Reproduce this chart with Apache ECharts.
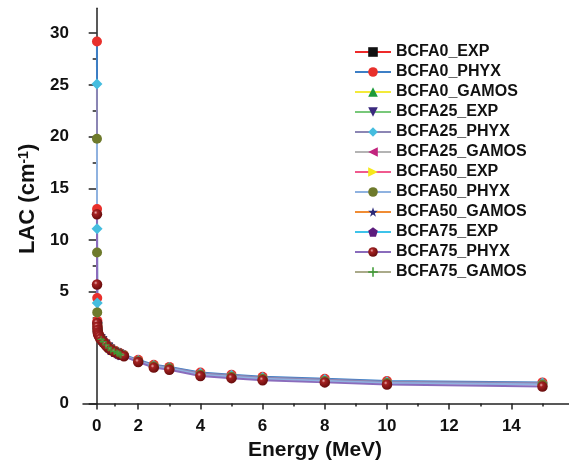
<!DOCTYPE html>
<html>
<head>
<meta charset="utf-8">
<script src="https://cdn.jsdelivr.net/npm/echarts@6/dist/echarts.min.js"></script>
<style>
  html, body { margin: 0; padding: 0; background: #fff; }
  #chart { width: 569px; height: 461px; }
</style>
</head>
<body>
<div id="chart"></div>
<script>
// energies (MeV)
const phyxEnergy = [0.015, 0.02, 0.03, 0.04, 0.05, 0.06, 0.08, 0.1, 0.15, 0.2, 0.3, 0.4, 0.5, 0.6, 0.8, 1, 1.25, 1.5, 2, 2.5, 3, 4, 5, 6, 8, 10, 15]
const expEnergy = [0.244, 0.344, 0.511, 0.662, 0.779, 0.964, 1.112, 1.173, 1.275, 1.333]

// LAC (cm-1)
const bcfa0Phyx = [29.2, 13.0, 4.4, 2.2, 1.55, 1.22, 1.02, 0.99, 0.97, 0.94, 0.91, 0.88, 0.85, 0.82, 0.78, 0.75, 0.72, 0.69, 0.62, 0.55, 0.52, 0.44, 0.41, 0.38, 0.35, 0.32, 0.30]
const bcfa25Phyx = [25.1, 11.1, 3.9, 2.0, 1.45, 1.15, 1.01, 0.98, 0.96, 0.93, 0.90, 0.87, 0.84, 0.81, 0.77, 0.74, 0.71, 0.68, 0.61, 0.54, 0.51, 0.43, 0.40, 0.37, 0.34, 0.31, 0.29]
const bcfa50Phyx = [19.8, 8.8, 3.0, 1.8, 1.38, 1.10, 1.00, 0.98, 0.95, 0.93, 0.90, 0.87, 0.84, 0.81, 0.77, 0.74, 0.71, 0.68, 0.60, 0.53, 0.50, 0.41, 0.38, 0.35, 0.32, 0.29, 0.27]
const bcfa75Phyx = [12.5, 5.7, 1.97, 1.62, 1.30, 1.05, 0.99, 0.97, 0.95, 0.92, 0.89, 0.86, 0.83, 0.80, 0.76, 0.73, 0.70, 0.67, 0.59, 0.51, 0.48, 0.39, 0.36, 0.33, 0.30, 0.27, 0.24]

const bcfa0Exp = [0.93, 0.90, 0.85, 0.81, 0.78, 0.75, 0.73, 0.72, 0.71, 0.70]
const bcfa0Gamos = [0.94, 0.90, 0.86, 0.82, 0.79, 0.76, 0.74, 0.73, 0.72, 0.71]
const bcfa25Exp = [0.92, 0.89, 0.84, 0.80, 0.77, 0.74, 0.72, 0.71, 0.70, 0.69]
const bcfa25Gamos = [0.90, 0.87, 0.82, 0.78, 0.75, 0.72, 0.70, 0.69, 0.68, 0.67]
const bcfa50Exp = [0.93, 0.89, 0.84, 0.80, 0.77, 0.74, 0.72, 0.71, 0.70, 0.69]
const bcfa50Gamos = [0.92, 0.88, 0.83, 0.79, 0.76, 0.73, 0.71, 0.70, 0.69, 0.68]
const bcfa75Exp = [0.91, 0.88, 0.83, 0.79, 0.76, 0.73, 0.72, 0.71, 0.70, 0.69]
const bcfa75Gamos = [0.91, 0.88, 0.83, 0.79, 0.76, 0.74, 0.72, 0.71, 0.70, 0.69]

const xMajorTicks = [0, 2, 4, 6, 8, 10, 12, 14]
const xMinorTicks = [1, 3, 5, 7, 9, 11, 13, 15]
const yMajorTicks = [0, 5, 10, 15, 20, 25, 30]
const yMinorTicks = [2.5, 7.5, 12.5, 17.5, 22.5, 27.5]

// both axes are broken like the original plot: the low part has its own scale
function toX(e) { return e < 1.6 ? e * 0.585 : e - 0.664 }
function fromX(d) { return d < 0.936 ? d / 0.585 : d + 0.664 }
function toY(v) { return v < 1 ? v * 6.81 : v + 5.81 }
function fromY(d) { return d < 6.81 ? d / 6.81 : d - 5.81 }

const FONT = '"Liberation Sans", Arial, sans-serif'

const sym = {
  down: 'path://M0,0L10,0L5,9Z',
  left: 'path://M9,0L9,10L0,5Z',
  right: 'path://M0,0L9,5L0,10Z',
  star: 'path://M5,0L6.2,3.6L10,3.6L6.9,5.9L8.1,9.5L5,7.3L1.9,9.5L3.1,5.9L0,3.6L3.8,3.6Z',
  pentagon: 'path://M5,0L10,3.6L8.1,9.5L1.9,9.5L0,3.6Z',
  plus: 'path://M4.2,0H5.8V4.2H10V5.8H5.8V10H4.2V5.8H0V4.2H4.2Z'
}

const sphere = {
  type: 'radial', x: 0.38, y: 0.35, r: 0.7,
  colorStops: [
    { offset: 0, color: '#eeb0b0' },
    { offset: 0.25, color: '#a42222' },
    { offset: 1, color: '#620a0a' }
  ]
}

function makeSeries(name, energy, values, lineColor, symbol, markColor, size) {
  return {
    name: name,
    type: 'line',
    data: energy.map((e, i) => [toX(e), toY(values[i])]),
    symbol: symbol,
    symbolSize: size,
    showSymbol: true,
    lineStyle: { color: lineColor, width: 2 },
    itemStyle: { color: markColor },
    emphasis: { disabled: true }
  }
}

const series = [
  makeSeries('BCFA0_EXP', expEnergy, bcfa0Exp, '#ee2a2a', 'rect', '#111111', 8),
  makeSeries('BCFA0_PHYX', phyxEnergy, bcfa0Phyx, '#3d7fc6', 'circle', '#e8302c', 10),
  makeSeries('BCFA0_GAMOS', expEnergy, bcfa0Gamos, '#f3ea3a', 'triangle', '#1d9a3c', 9),
  makeSeries('BCFA25_EXP', expEnergy, bcfa25Exp, '#78c87a', sym.down, '#3b2a7e', 9),
  makeSeries('BCFA25_PHYX', phyxEnergy, bcfa25Phyx, '#8c86b4', 'diamond', '#45bddf', 11),
  makeSeries('BCFA25_GAMOS', expEnergy, bcfa25Gamos, '#b4b4b4', sym.left, '#c2247e', 9),
  makeSeries('BCFA50_EXP', expEnergy, bcfa50Exp, '#f05a8e', sym.right, '#f6e81c', 9),
  makeSeries('BCFA50_PHYX', phyxEnergy, bcfa50Phyx, '#8fb2e0', 'circle', '#6e7a2c', 10),
  makeSeries('BCFA50_GAMOS', expEnergy, bcfa50Gamos, '#f08c34', sym.star, '#2c2a78', 10),
  makeSeries('BCFA75_EXP', expEnergy, bcfa75Exp, '#3ec3ea', sym.pentagon, '#5c1c7c', 10),
  makeSeries('BCFA75_PHYX', phyxEnergy, bcfa75Phyx, '#8a6cbc', 'circle', sphere, 10.5),
  makeSeries('BCFA75_GAMOS', expEnergy, bcfa75Gamos, '#aaaa8a', sym.plus, '#3f9a36', 7)
]

const chart = echarts.init(document.getElementById('chart'))
chart.setOption({
  animation: false,
  grid: { left: 83, right: 0, top: 8.3, bottom: 57.5, outerBoundsMode: 'none' },
  legend: {
    orient: 'vertical',
    left: 354,
    top: 44,
    padding: 0,
    itemWidth: 36,
    itemHeight: 12,
    itemGap: 4,
    selectedMode: false,
    textStyle: { fontFamily: FONT, fontSize: 16, fontWeight: 'bold', color: '#111', lineHeight: 16 },
    data: series.map(s => s.name)
  },
  xAxis: [{
    type: 'value',
    min: -0.44,
    max: 15.19,
    name: 'Energy (MeV)',
    nameLocation: 'middle',
    nameGap: 36,
    nameTextStyle: { fontFamily: FONT, fontSize: 21, fontWeight: 'bold', color: '#111', padding: [0, 22, 0, 0] },
    axisLine: { lineStyle: { color: '#222', width: 1.5 } },
    axisTick: { customValues: xMajorTicks.map(toX), length: 6, lineStyle: { color: '#222', width: 1.5 } },
    axisLabel: {
      customValues: xMajorTicks.map(toX),
      formatter: v => String(Math.round(fromX(v))),
      margin: 14,
      fontFamily: FONT, fontSize: 17, fontWeight: 'bold', color: '#111'
    },
    splitLine: { show: false }
  }, {
    type: 'value',
    min: -0.44,
    max: 15.19,
    position: 'bottom',
    axisLine: { show: false },
    axisTick: { customValues: xMinorTicks.map(toX), length: 3, lineStyle: { color: '#222', width: 1.5 } },
    axisLabel: { show: false },
    splitLine: { show: false }
  }],
  yAxis: [{
    type: 'value',
    min: 0,
    max: 38.22,
    name: '{b|LAC (cm}{s|-1}{b|)}',
    nameLocation: 'middle',
    nameGap: 39,
    nameTextStyle: {
      padding: [0, 0, 0, 14],
      rich: {
        b: { fontFamily: FONT, fontSize: 22, fontWeight: 'bold', color: '#111' },
        s: { fontFamily: FONT, fontSize: 14, fontWeight: 'bold', color: '#111', verticalAlign: 'top' }
      }
    },
    axisLine: { show: true, lineStyle: { color: '#222', width: 1.5 } },
    axisTick: { customValues: yMajorTicks.map(toY), length: 8, lineStyle: { color: '#222', width: 1.5 } },
    axisLabel: {
      customValues: yMajorTicks.map(toY),
      formatter: v => String(Math.round(fromY(v))),
      margin: 14,
      fontFamily: FONT, fontSize: 17, fontWeight: 'bold', color: '#111'
    },
    splitLine: { show: false }
  }, {
    type: 'value',
    min: 0,
    max: 38.22,
    position: 'left',
    axisLine: { show: false },
    axisTick: { show: true, customValues: yMinorTicks.map(toY), length: 4, lineStyle: { color: '#222', width: 1.5 } },
    axisLabel: { show: false },
    splitLine: { show: false }
  }],
  series: series
})
</script>
</body>
</html>
